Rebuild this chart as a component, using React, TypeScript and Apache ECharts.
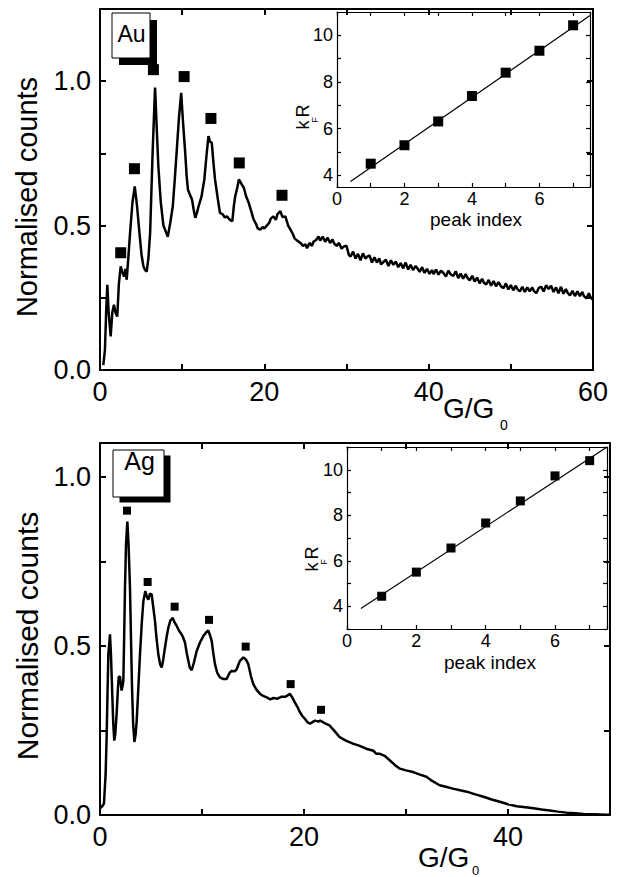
import React, { useEffect, useRef } from "react";
import * as echarts from "echarts";

// ---------- Au (top panel) ----------
const auX = [0.4,0.6,0.75,0.89,1.05,1.3,1.5,1.7,1.87,2.1,2.3,2.52,2.7,2.93,3.1,3.25,3.45,3.66,3.95,4.23,4.5,4.8,5.05,5.28,5.5,5.69,5.9,6.1,6.4,6.7,6.9,7.1,7.4,7.72,8.0,8.25,8.55,8.86,9.1,9.35,9.6,9.88,10.1,10.37,10.55,10.7,10.9,11.2,11.4,11.6,11.8,12.0,12.35,12.7,12.95,13.2,13.4,13.6,13.8,14.0,14.3,14.6,14.9,15.2,15.45,15.8,16.1,16.3,16.46,16.7,16.9,17.2,17.5,17.8,18.1,18.4,18.7,19.0,19.2,19.5,19.8,20.0,20.3,20.6,20.8,21.1,21.4,21.6,21.95,22.2,22.56,22.9,23.1,23.4,23.7,24.0,24.4,24.7,25.0,25.2,25.5,25.8,26.0,26.3,26.6,26.8,27.1,27.4,27.7,28.0,28.3,28.5,28.8,29.1,29.4,29.7,30.0,30.3,30.5,30.8,31.1,31.4,31.7,32.0,32.3,32.5,32.8,33.1,33.4,33.7,34.0,34.2,34.5,34.8,35.1,35.4,35.7,36.0,36.3,36.6,36.9,37.2,37.5,37.8,38.1,38.4,38.6,38.9,39.2,39.5,39.8,40.1,40.4,40.6,40.9,41.2,41.5,41.8,42.1,42.4,42.7,43.0,43.3,43.6,43.9,44.2,44.5,44.7,45.0,45.3,45.6,45.9,46.2,46.5,46.7,47.0,47.3,47.6,47.9,48.2,48.5,48.8,49.1,49.4,49.7,50.0,50.3,50.6,50.8,51.1,51.4,51.7,52.0,52.3,52.6,52.8,53.1,53.4,53.7,54.0,54.3,54.6,54.9,55.2,55.5,55.8,56.1,56.4,56.7,56.9,57.2,57.5,57.8,58.1,58.4,58.7,58.9,59.2,59.5,59.7,60.0];
const auY = [0.017,0.07,0.2,0.295,0.2,0.116,0.2,0.226,0.2,0.185,0.3,0.359,0.34,0.324,0.35,0.3125,0.39,0.475,0.58,0.636,0.57,0.475,0.4,0.359,0.345,0.341,0.39,0.475,0.75,0.978,0.84,0.706,0.58,0.5,0.48,0.461,0.51,0.567,0.66,0.764,0.87,0.96,0.86,0.752,0.67,0.625,0.61,0.59,0.555,0.527,0.545,0.567,0.6,0.66,0.74,0.81,0.79,0.787,0.72,0.66,0.6,0.544,0.54,0.528,0.532,0.52,0.515,0.57,0.602,0.63,0.66,0.645,0.631,0.6,0.579,0.55,0.521,0.505,0.49,0.486,0.495,0.49,0.5,0.51,0.525,0.532,0.52,0.54,0.55,0.53,0.532,0.5,0.49,0.475,0.455,0.448,0.44,0.43,0.435,0.422,0.44,0.43,0.445,0.45,0.462,0.448,0.462,0.444,0.458,0.44,0.452,0.438,0.43,0.44,0.42,0.428,0.43,0.398,0.393,0.41,0.386,0.402,0.38,0.404,0.386,0.392,0.397,0.372,0.39,0.372,0.386,0.366,0.374,0.382,0.36,0.38,0.364,0.376,0.356,0.37,0.352,0.372,0.348,0.364,0.346,0.36,0.353,0.34,0.356,0.336,0.35,0.333,0.346,0.332,0.348,0.33,0.344,0.336,0.324,0.344,0.33,0.326,0.342,0.318,0.334,0.316,0.332,0.32,0.31,0.326,0.306,0.32,0.3,0.316,0.303,0.296,0.312,0.292,0.308,0.29,0.304,0.29,0.283,0.3,0.279,0.294,0.276,0.292,0.28,0.272,0.288,0.27,0.286,0.272,0.286,0.274,0.266,0.284,0.288,0.272,0.294,0.28,0.292,0.27,0.286,0.266,0.288,0.264,0.28,0.268,0.258,0.274,0.256,0.272,0.256,0.27,0.256,0.248,0.266,0.252,0.243];
const auPeakX = [2.52, 4.19, 6.5, 10.24, 13.5, 16.95, 22.15];
const auPeakY = [0.406, 0.697, 1.04, 1.016, 0.871, 0.717, 0.605];
const auIndex = [1, 2, 3, 4, 5, 6, 7];
const auKfR = [4.5, 5.29, 6.31, 7.4, 8.4, 9.34, 10.43];
const auFitX = [0.4, 7.5];
const auFitY = [3.74, 10.85];

// ---------- Ag (bottom panel) ----------
const agX = [0.0,0.2,0.39,0.55,0.65,0.75,0.82,0.98,1.08,1.18,1.3,1.4,1.5,1.63,1.75,1.83,1.96,2.05,2.12,2.2,2.29,2.37,2.45,2.55,2.68,2.8,2.94,3.04,3.14,3.25,3.37,3.5,3.6,3.75,3.92,4.1,4.25,4.44,4.6,4.74,4.9,5.07,5.2,5.39,5.55,5.72,5.9,6.05,6.2,6.37,6.55,6.7,6.9,7.13,7.3,7.52,7.75,8.0,8.15,8.33,8.5,8.66,8.8,8.99,9.2,9.48,9.8,10.13,10.4,10.62,10.8,10.95,11.1,11.27,11.5,11.76,12.1,12.42,12.7,12.9,13.2,13.4,13.7,14.05,14.3,14.54,14.8,15.03,15.35,15.7,16.0,16.34,16.7,17.0,17.4,17.8,18.2,18.63,18.9,19.1,19.35,19.6,19.85,20.1,20.35,20.6,20.9,21.1,21.4,21.6,22.0,22.5,23.0,23.5,24.1,24.8,25.4,26.1,26.8,27.1,27.45,27.9,28.4,28.9,29.4,30.0,30.7,31.3,32.0,32.6,33.3,34.0,34.6,35.3,35.95,36.8,37.6,38.4,39.2,40.0,40.85,41.7,42.5,43.3,44.1,44.9,45.75,46.6,47.4,48.5,49.7,50.0];
const agY = [0.02,0.025,0.034,0.12,0.23,0.38,0.475,0.534,0.47,0.377,0.27,0.22,0.24,0.3,0.37,0.407,0.41,0.385,0.368,0.38,0.397,0.53,0.671,0.8,0.868,0.8,0.671,0.52,0.377,0.27,0.216,0.24,0.28,0.37,0.475,0.57,0.632,0.662,0.645,0.637,0.655,0.652,0.62,0.574,0.52,0.475,0.445,0.436,0.46,0.495,0.53,0.554,0.575,0.583,0.57,0.559,0.545,0.534,0.525,0.51,0.48,0.456,0.436,0.428,0.45,0.485,0.51,0.529,0.54,0.546,0.53,0.515,0.48,0.446,0.42,0.407,0.402,0.402,0.42,0.426,0.425,0.431,0.455,0.466,0.46,0.446,0.41,0.387,0.37,0.358,0.352,0.348,0.342,0.346,0.344,0.35,0.35,0.358,0.345,0.333,0.32,0.304,0.292,0.284,0.274,0.27,0.276,0.279,0.276,0.279,0.272,0.265,0.248,0.23,0.22,0.211,0.205,0.196,0.19,0.181,0.181,0.175,0.162,0.148,0.137,0.132,0.127,0.12,0.113,0.1,0.088,0.083,0.078,0.073,0.069,0.061,0.054,0.046,0.039,0.032,0.026,0.023,0.02,0.016,0.013,0.01,0.007,0.005,0.003,0.002,0.001,0.001];
const agPeakX = [2.65, 4.67, 7.32, 10.69, 14.28, 18.69, 21.67];
const agPeakY = [0.9, 0.689, 0.616, 0.577, 0.498, 0.387, 0.311];
const agIndex = [1, 2, 3, 4, 5, 6, 7];
const agKfR = [4.44, 5.5, 6.56, 7.66, 8.63, 9.73, 10.4];
const agFitX = [0.4, 7.5];
const agFitY = [3.9, 11.0];

const mainXTickLabels = [0, 20, 40, 60];
const mainYTickLabels = ["0.0", "0.5", "1.0"];
const insetXTickLabels = [0, 2, 4, 6];
const insetYTickLabels = [4, 6, 8, 10];

const FONT = "'Liberation Sans', Arial, Helvetica, sans-serif";

const pairs = (xs: number[], ys: number[]) => xs.map((x, i) => [x, ys[i]]);
const near = (v: number, step: number) => Math.abs(v / step - Math.round(v / step)) < 1e-6;

export default function App() {
  const ref = useRef<HTMLDivElement>(null);
  useEffect(() => {
    if (!ref.current) return;
    const chart = echarts.init(ref.current, undefined, { renderer: "svg" });

    const mainLine = { lineStyle: { color: "#000", width: 2 } };
    const insetLine = { lineStyle: { color: "#000", width: 1.2 } };

    const mkX = (grid: number, pos: "bottom" | "top", min: number, max: number, interval: number, main: boolean) => ({
      type: "value",
      gridIndex: grid,
      position: pos,
      min,
      max,
      interval,
      axisLine: { show: true, onZero: false, ...(main ? mainLine : insetLine) },
      axisTick: { show: true, inside: true, length: main ? 6 : 4, ...(main ? mainLine : insetLine) },
      splitLine: { show: false },
      axisLabel: {
        show: pos === "bottom",
        color: "#000",
        fontFamily: FONT,
        fontSize: main ? 27 : 18,
        margin: main ? 8 : 3,
        showMinLabel: true,
        showMaxLabel: true,
        formatter: (v: number) => {
          const list = main ? mainXTickLabels : insetXTickLabels;
          return list.indexOf(Math.round(v * 1000) / 1000) >= 0 ? String(v) : "";
        },
      },
    });

    const mkY = (grid: number, pos: "left" | "right", min: number, max: number, main: boolean, extra: any) => ({
      type: "value",
      gridIndex: grid,
      position: pos,
      min,
      max,
      ...(extra.interval ? { interval: extra.interval } : {}),
      axisLine: { show: true, onZero: false, ...(main ? mainLine : insetLine) },
      axisTick: { show: true, inside: true, length: main ? 6 : 4, ...(main ? mainLine : insetLine), ...(extra.tickValues ? { customValues: extra.tickValues } : {}) },
      splitLine: { show: false },
      axisLabel: {
        show: pos === "left",
        color: "#000",
        fontFamily: FONT,
        fontSize: main ? 27 : 18,
        margin: main ? 9 : 4,
        ...(extra.labelValues ? { customValues: extra.labelValues } : {}),
        formatter: (v: number) => {
          if (main) return near(v, 0.5) ? mainYTickLabels[Math.round(v * 2)] ?? "" : "";
          return insetYTickLabels.indexOf(Math.round(v * 1000) / 1000) >= 0 ? String(v) : "";
        },
      },
    });

    const rotText = (text: string, x: number, y: number, size: number) => ({
      type: "text",
      x,
      y,
      rotation: Math.PI / 2,
      style: { text, font: `${size}px ${FONT}`, fill: "#000", align: "center", verticalAlign: "middle" },
    });
    const plainText = (text: string, x: number, y: number, size: number, align = "left") => ({
      type: "text",
      x,
      y,
      style: { text, font: `${size}px ${FONT}`, fill: "#000", align, verticalAlign: "middle" },
    });
    const sq = { color: "#000", opacity: 1 };

    const option: any = {
      animation: false,
      backgroundColor: "#fff",
      grid: [
        { left: 100, top: 9, width: 493, height: 361 },
        { left: 337, top: 12, width: 253, height: 175, show: true, backgroundColor: "#fff", borderWidth: 0 },
        { left: 100, top: 443, width: 510, height: 372 },
        { left: 347, top: 447, width: 260, height: 182, show: true, backgroundColor: "#fff", borderWidth: 0 },
      ],
      xAxis: [
        mkX(0, "bottom", 0, 60, 10, true),
        mkX(0, "top", 0, 60, 10, true),
        mkX(1, "bottom", 0, 7.5, 1, false),
        mkX(1, "top", 0, 7.5, 1, false),
        mkX(2, "bottom", 0, 50, 10, true),
        mkX(2, "top", 0, 50, 10, true),
        mkX(3, "bottom", 0, 7.5, 1, false),
        mkX(3, "top", 0, 7.5, 1, false),
      ],
      yAxis: [
        mkY(0, "left", 0, 1.25, true, { interval: 0.25 }),
        mkY(0, "right", 0, 1.25, true, { interval: 0.25 }),
        mkY(1, "left", 3.5, 11, false, { tickValues: [4, 5, 6, 7, 8, 9, 10], labelValues: insetYTickLabels }),
        mkY(1, "right", 3.5, 11, false, { tickValues: [4, 5, 6, 7, 8, 9, 10], labelValues: insetYTickLabels }),
        mkY(2, "left", 0, 1.1, true, { interval: 0.25 }),
        mkY(2, "right", 0, 1.1, true, { interval: 0.25 }),
        mkY(3, "left", 3, 11, false, { interval: 1 }),
        mkY(3, "right", 3, 11, false, { interval: 1 }),
      ],
      series: [
        { type: "line", xAxisIndex: 0, yAxisIndex: 0, data: pairs(auX, auY), showSymbol: false, lineStyle: { color: "#000", width: 2.5 }, z: 3 },
        { type: "scatter", xAxisIndex: 0, yAxisIndex: 0, data: pairs(auPeakX, auPeakY), symbol: "rect", symbolSize: 11, itemStyle: sq, z: 4 },
        { type: "line", xAxisIndex: 2, yAxisIndex: 2, data: pairs(auFitX, auFitY), showSymbol: false, lineStyle: { color: "#000", width: 1.2 }, z: 5 },
        { type: "scatter", xAxisIndex: 2, yAxisIndex: 2, data: pairs(auIndex, auKfR), symbol: "rect", symbolSize: 10, itemStyle: sq, z: 6 },
        { type: "line", xAxisIndex: 4, yAxisIndex: 4, data: pairs(agX, agY), showSymbol: false, lineStyle: { color: "#000", width: 2.5 }, z: 3 },
        { type: "scatter", xAxisIndex: 4, yAxisIndex: 4, data: pairs(agPeakX, agPeakY), symbol: "rect", symbolSize: 8, itemStyle: sq, z: 4 },
        { type: "line", xAxisIndex: 6, yAxisIndex: 6, data: pairs(agFitX, agFitY), showSymbol: false, lineStyle: { color: "#000", width: 1.2 }, z: 5 },
        { type: "scatter", xAxisIndex: 6, yAxisIndex: 6, data: pairs(agIndex, agKfR), symbol: "rect", symbolSize: 9, itemStyle: sq, z: 6 },
      ],
      graphic: [
        // Au box
        { type: "rect", shape: { x: 119, y: 20, width: 38, height: 45 }, style: { fill: "#000" }, z: 10 },
        { type: "rect", shape: { x: 112, y: 13, width: 38, height: 45 }, style: { fill: "#fff", stroke: "#000", lineWidth: 1 }, z: 11 },
        { ...plainText("Au", 131.5, 34, 23, "center"), z: 12 },
        // Ag box
        { type: "rect", shape: { x: 119.5, y: 455.5, width: 51, height: 47 }, style: { fill: "#000" }, z: 10 },
        { type: "rect", shape: { x: 113, y: 450, width: 51, height: 47 }, style: { fill: "#fff", stroke: "#000", lineWidth: 1 }, z: 11 },
        { ...plainText("Ag", 139.5, 461, 25, "center"), z: 12 },
        // axis titles
        rotText("Normalised counts", 27, 197, 29),
        rotText("Normalised counts", 27, 636, 30),
        plainText("G/G", 443, 408, 28),
        plainText("0", 500, 425, 14),
        plainText("G/G", 418, 857, 28),
        plainText("0", 472, 870, 13),
        plainText("peak index", 476, 219, 19, "center"),
        plainText("peak index", 490, 662, 19, "center"),
        rotText("k", 303, 125, 18),
        rotText("R", 303, 111, 18),
        rotText("F", 315, 120, 9),
        rotText("k", 312, 567, 18),
        rotText("R", 312, 553, 18),
        rotText("F", 324, 562, 9),
      ],
    };
    chart.setOption(option);
    return () => chart.dispose();
  }, []);
  return <div ref={ref} style={{ position: "absolute", left: 0, top: 0, width: 618, height: 877 }} />;
}
